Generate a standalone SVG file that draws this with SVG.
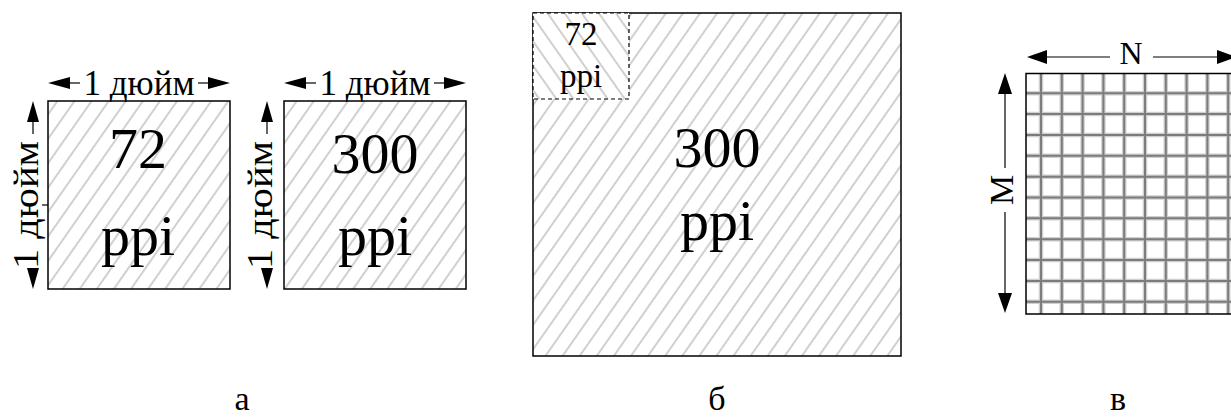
<svg xmlns="http://www.w3.org/2000/svg" width="1231" height="418" viewBox="0 0 1231 418">
  <defs>
    <!-- diagonal hatching, "/" direction -->
    <pattern id="hatchFwd" patternUnits="userSpaceOnUse" width="14" height="14" patternTransform="rotate(35)">
      <line x1="7" y1="0" x2="7" y2="14" stroke="#c4c4c4" stroke-width="1.6"/>
    </pattern>
    <!-- diagonal hatching, "\" direction -->
    <pattern id="hatchBack" patternUnits="userSpaceOnUse" width="14" height="14" patternTransform="rotate(-35)">
      <line x1="7" y1="0" x2="7" y2="14" stroke="#c4c4c4" stroke-width="1.6"/>
    </pattern>
  </defs>
  <style>
    text { font-family: "Liberation Serif", "DejaVu Serif", serif; fill: #000; }
    .dim { font-size: 35px; }
    .big { font-size: 58px; }
    .small { font-size: 33px; }
    .cap { font-size: 34px; }
    .box { stroke: #000; stroke-width: 1.5; }
    .ln { stroke: #000; stroke-width: 1.2; fill: none; }
    .head { fill: #000; }
    .gridHalo { stroke: #cfcfcf; stroke-width: 4.5; fill: none; }
    .gridCore { stroke: #7c7c7c; stroke-width: 2; fill: none; }
  </style>
  <rect width="1231" height="418" fill="#fff"/>

  <!-- panel a: 72 ppi square -->
  <g id="box-72">
    <rect class="box" x="48" y="101" width="182" height="188" fill="url(#hatchFwd)"/>
    <text class="big" x="138" y="168" text-anchor="middle">72</text>
    <text class="big" x="138" y="255" text-anchor="middle">ppi</text>
    <line class="ln" x1="42" y1="205" x2="48" y2="205"/>
  </g>

  <!-- panel a: 300 ppi square -->
  <g id="box-300">
    <rect class="box" x="284" y="101" width="182" height="188" fill="url(#hatchFwd)"/>
    <text class="big" x="375" y="173" text-anchor="middle">300</text>
    <text class="big" x="375" y="255" text-anchor="middle">ppi</text>
  </g>

  <!-- panel б: large 300 ppi area with 72 ppi inset -->
  <g id="box-large">
    <rect class="box" x="533" y="13" width="368" height="343" fill="url(#hatchFwd)"/>
    <text class="big" x="717" y="167" text-anchor="middle">300</text>
    <text class="big" x="717" y="240" text-anchor="middle">ppi</text>
  </g>
  <g id="box-inset">
    <rect x="533" y="13" width="96" height="86" fill="#fff"/>
    <rect x="533" y="13" width="96" height="86" fill="url(#hatchBack)" stroke="#000" stroke-width="1.2" stroke-dasharray="4 3"/>
    <text class="small" x="581" y="45" text-anchor="middle">72</text>
    <text class="small" x="581" y="87" text-anchor="middle">ppi</text>
  </g>

  <!-- panel в: pixel grid M x N -->
  <g id="pixel-grid">
    <rect x="1026" y="73.5" width="210" height="240.5" fill="#fff"/>
    <path class="gridHalo" d="M1041,73.5V314 M1061.8,73.5V314 M1082.6,73.5V314 M1103.4,73.5V314 M1124.2,73.5V314 M1145,73.5V314 M1165.8,73.5V314 M1186.6,73.5V314 M1207.4,73.5V314 M1228.2,73.5V314
      M1026,93.3H1236 M1026,114.1H1236 M1026,135H1236 M1026,155.8H1236 M1026,176.7H1236 M1026,197.5H1236 M1026,218.3H1236 M1026,239.2H1236 M1026,260H1236 M1026,280.9H1236 M1026,301.7H1236"/>
    <path class="gridCore" d="M1041,73.5V314 M1061.8,73.5V314 M1082.6,73.5V314 M1103.4,73.5V314 M1124.2,73.5V314 M1145,73.5V314 M1165.8,73.5V314 M1186.6,73.5V314 M1207.4,73.5V314 M1228.2,73.5V314
      M1026,93.3H1236 M1026,114.1H1236 M1026,135H1236 M1026,155.8H1236 M1026,176.7H1236 M1026,197.5H1236 M1026,218.3H1236 M1026,239.2H1236 M1026,260H1236 M1026,280.9H1236 M1026,301.7H1236"/>
    <path d="M1236,73.5H1026V314H1236" stroke="#000" stroke-width="1.5" fill="none"/>
  </g>

  <!-- dimension arrows -->
  <g id="connectors">
    <!-- width of 72 ppi square -->
    <polygon class="head" points="48,83 70,77 70,89"/>
    <line class="ln" x1="70" y1="83" x2="80" y2="83"/>
    <line class="ln" x1="198" y1="83" x2="208" y2="83"/>
    <polygon class="head" points="230,83 208,77 208,89"/>
    <text class="dim" x="139" y="95" text-anchor="middle">1 дюйм</text>

    <!-- width of 300 ppi square -->
    <polygon class="head" points="284,83 306,77 306,89"/>
    <line class="ln" x1="306" y1="83" x2="316" y2="83"/>
    <line class="ln" x1="434" y1="83" x2="444" y2="83"/>
    <polygon class="head" points="466,83 444,77 444,89"/>
    <text class="dim" x="375" y="95" text-anchor="middle">1 дюйм</text>

    <!-- height of 72 ppi square -->
    <polygon class="head" points="33,101 27,122 39,122"/>
    <line class="ln" x1="33" y1="122" x2="33" y2="134"/>
    <polygon class="head" points="33,289 27,268 39,268"/>
    <text class="dim" transform="translate(38,205) rotate(-90)" text-anchor="middle" textLength="128" lengthAdjust="spacingAndGlyphs">1 дюйм</text>

    <!-- height of 300 ppi square -->
    <polygon class="head" points="267,101 261,122 273,122"/>
    <line class="ln" x1="267" y1="122" x2="267" y2="134"/>
    <polygon class="head" points="267,289 261,268 273,268"/>
    <text class="dim" transform="translate(272,205) rotate(-90)" text-anchor="middle" textLength="128" lengthAdjust="spacingAndGlyphs">1 дюйм</text>

    <!-- N: grid width -->
    <polygon class="head" points="1027,57 1047,50 1047,64"/>
    <line class="ln" x1="1047" y1="57" x2="1110" y2="57"/>
    <text style="font-size:32px" x="1131" y="64" text-anchor="middle">N</text>
    <line class="ln" x1="1153" y1="57" x2="1217" y2="57"/>
    <polygon class="head" points="1237,57 1217,50 1217,64"/>

    <!-- M: grid height -->
    <polygon class="head" points="1005,73 998,94 1012,94"/>
    <line class="ln" x1="1005" y1="94" x2="1005" y2="168"/>
    <text style="font-size:34px" transform="translate(1013,190) rotate(-90)" text-anchor="middle">M</text>
    <line class="ln" x1="1005" y1="212" x2="1005" y2="293"/>
    <polygon class="head" points="1005,313 998,293 1012,293"/>
  </g>

  <!-- panel captions -->
  <g id="captions">
    <text class="cap" x="242" y="410" text-anchor="middle">а</text>
    <text class="cap" x="717" y="410" text-anchor="middle">б</text>
    <text class="cap" x="1118" y="410" text-anchor="middle">в</text>
  </g>
</svg>
